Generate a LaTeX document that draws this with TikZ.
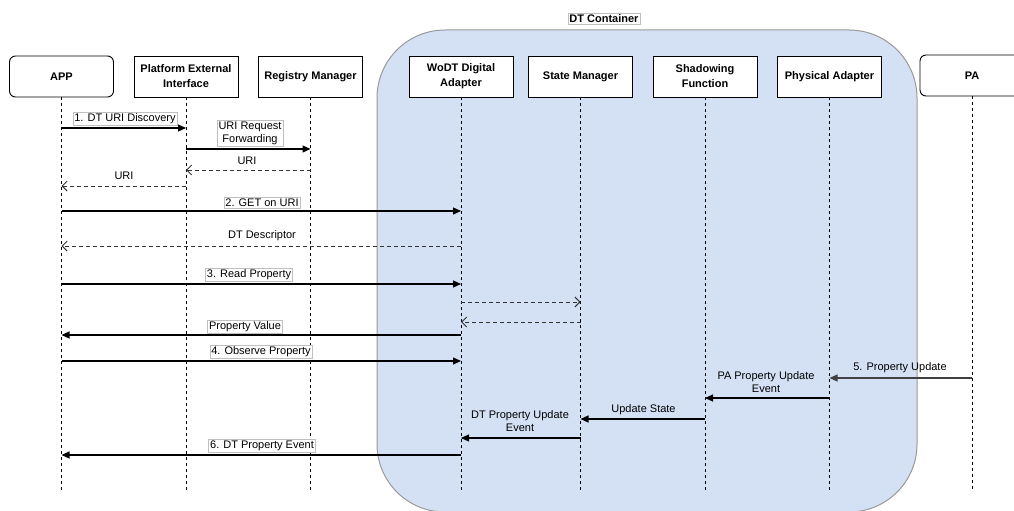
\documentclass[tikz,border=0pt]{standalone}
\usepackage{fontspec}
\setmainfont{Liberation Sans}
\usetikzlibrary{arrows.meta}

\definecolor{dtblue}{HTML}{D4E1F5}

\begin{document}
\begin{tikzpicture}[
  x=1pt, y=-1pt,
  font=\fontsize{11}{13}\selectfont,
  actor/.style={draw, fill=white, line width=0.9pt, minimum width=104pt,
    minimum height=41pt, align=center, font=\fontsize{11}{15}\selectfont\bfseries},
  ext/.style={actor, rounded corners=6pt},
  lifeline/.style={line width=0.8pt, dash pattern=on 3pt off 3pt},
  call/.style={line width=1.1pt, -{Triangle[length=8pt,width=7pt]}},
  reply/.style={line width=0.9pt, black!80, dash pattern=on 4pt off 3pt,
    -{Straight Barb[length=5pt,width=10pt]}},
  tag/.style={draw=black!25, fill=white, inner sep=1.5pt, align=center},
  note/.style={inner sep=1pt, align=center}
]
\path[use as bounding box] (0,0) rectangle (1014,511);

% container behind the inner participants
\draw[black!40, fill=dtblue, line width=1pt, rounded corners=68pt]
  (377,30) rectangle (917,512);
\node[tag, font=\fontsize{11}{13}\selectfont\bfseries] (dt) at (604,18.5) {DT Container};

% participants
\node[ext]   (app)  at (61.5,76.5)  {APP};
\node[actor] (pei)  at (186,76.5)   {Platform External\\Interface};
\node[actor] (rm)   at (310.5,76.5) {Registry Manager};
\node[actor] (wodt) at (461,76.5)   {WoDT Digital\\Adapter};
\node[actor] (sm)   at (580.5,76.5) {State Manager};
\node[actor] (sf)   at (705,76.5)   {Shadowing\\Function};
\node[actor] (pha)  at (829.5,76.5) {Physical Adapter};
\node[ext]   (pa)   at (972,75.5)   {PA};

% lifelines
\foreach \n in {app,pei,rm,wodt,sm,sf,pha,pa}
  \draw[lifeline] (\n.south) -- (\n |- 0,492);

% discovery
\draw[call]  (app |- 0,128) -- (pei |- 0,128);
\draw[call]  (pei |- 0,149) -- (rm |- 0,149);
\draw[reply] (rm |- 0,170) -- (pei |- 0,170);
\draw[reply] (pei |- 0,186) -- (app |- 0,186);
\node[tag]  (m1) at (125,119)  {1. DT URI Discovery};
\node[tag]  (m2) at (250,133)  {URI Request\\Forwarding};
\node[note] (m3) at (247,161)  {URI};
\node[note] (m4) at (124,176)  {URI};

% descriptor
\draw[call]  (app |- 0,211) -- (wodt |- 0,211);
\draw[reply] (wodt |- 0,246) -- (app |- 0,246);
\node[tag]  (m5) at (262,202.5) {2. GET on URI};
\node[note] (m6) at (262,236)   {DT Descriptor};

% read property
\draw[call]  (app |- 0,284) -- (wodt |- 0,284);
\draw[reply] (wodt |- 0,302) -- (sm |- 0,302);
\draw[reply] (sm |- 0,322) -- (wodt |- 0,322);
\draw[call]  (wodt |- 0,335) -- (app |- 0,335);
\node[tag] (m7) at (249,274.5) {3. Read Property};
\node[tag] (m8) at (245,326.5) {Property Value};

% observe property
\draw[call] (app |- 0,361) -- (wodt |- 0,361);
\draw[call, black!75] (pa |- 0,378) -- (pha |- 0,378);
\draw[call] (pha |- 0,398) -- (sf |- 0,398);
\draw[call] (sf |- 0,419) -- (sm |- 0,419);
\draw[call] (sm |- 0,438) -- (wodt |- 0,438);
\draw[call] (wodt |- 0,455) -- (app |- 0,455);
\node[tag]  (m9)  at (261,352)   {4. Observe Property};
\node[note] (m10) at (900,368)   {5. Property Update};
\node[note] (m11) at (766,382.5) {PA Property Update\\Event};
\node[note] (m12) at (643.5,410) {Update State};
\node[note] (m13) at (520,421.5) {DT Property Update\\Event};
\node[tag]  (m14) at (262,445.5) {6. DT Property Event};

\end{tikzpicture}
\end{document}
